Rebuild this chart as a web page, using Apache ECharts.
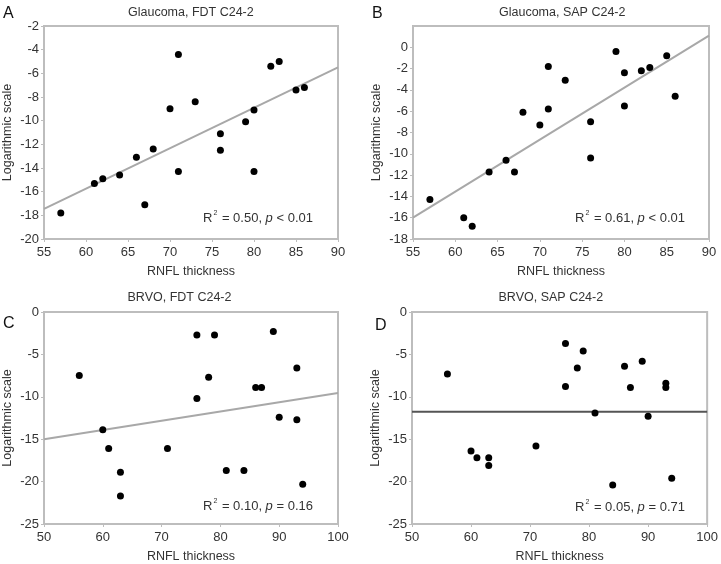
<!DOCTYPE html>
<html>
<head>
<meta charset="utf-8">
<script src="https://cdn.jsdelivr.net/npm/echarts@6/dist/echarts.min.js"></script>
<style>
  html, body { margin: 0; padding: 0; background: #fff; }
  #main { width: 721px; height: 564px; }
</style>
</head>
<body>
<div id="main"></div>
<script>
// panel A: Glaucoma, FDT C24-2
const glaucomaFdt = [
  [57, -17.8], [61, -15.3], [62, -14.9], [64, -14.6], [66, -13.1], [67, -17.1],
  [68, -12.4], [70, -9.0], [71, -4.4], [71, -14.3], [73, -8.4], [76, -11.1],
  [76, -12.5], [79, -10.1], [80, -9.1], [80, -14.3], [82, -5.4], [83, -5.0],
  [85, -7.4], [86, -7.2]
];
const glaucomaFdtFit = [[55, -17.45], [90, -5.5]];

// panel B: Glaucoma, SAP C24-2
const glaucomaSap = [
  [57, -14.3], [61, -16.0], [62, -16.8], [64, -11.7], [66, -10.6], [67, -11.7],
  [68, -6.1], [70, -7.3], [71, -1.8], [71, -5.8], [73, -3.1], [76, -7.0],
  [76, -10.4], [79, -0.4], [80, -2.4], [80, -5.5], [82, -2.2], [83, -1.9],
  [85, -0.8], [86, -4.6]
];
const glaucomaSapFit = [[55, -16.0], [90, 1.1]];

// panel C: BRVO, FDT C24-2
const brvoFdt = [
  [56, -7.5], [60, -13.9], [61, -16.1], [63, -18.9], [63, -21.7], [71, -16.1],
  [76, -2.7], [76, -10.2], [78, -7.7], [79, -2.7], [81, -18.7], [84, -18.7],
  [86, -8.9], [87, -8.9], [89, -2.3], [90, -12.4], [93, -6.6], [93, -12.7],
  [94, -20.3]
];
const brvoFdtFit = [[50, -15.0], [100, -9.55]];

// panel D: BRVO, SAP C24-2
const brvoSap = [
  [56, -7.3], [60, -16.4], [61, -17.2], [63, -17.2], [63, -18.1], [71, -15.8],
  [76, -3.7], [76, -8.8], [78, -6.6], [79, -4.6], [81, -11.9], [84, -20.4],
  [86, -6.4], [87, -8.9], [89, -5.8], [90, -12.3], [93, -8.4], [93, -8.9],
  [94, -19.6]
];
const brvoSapFit = [[50, -11.75], [100, -11.75]];

const panelTitles = ['Glaucoma, FDT C24-2', 'Glaucoma, SAP C24-2', 'BRVO, FDT C24-2', 'BRVO, SAP C24-2'];
const panelLetters = ['A', 'B', 'C', 'D'];
const statTexts = [
  ['0.50', '< 0.01'],
  ['0.61', '< 0.01'],
  ['0.10', '= 0.16'],
  ['0.05', '= 0.71']
];

const FONT = 'Liberation Sans, Arial, sans-serif';
const frameColor = '#bdbdbd';
const textColor = '#333';

const grids = [
  { left: 42, top: 26, width: 296, height: 213 },
  { left: 413, top: 26, width: 296, height: 213 },
  { left: 41, top: 312, width: 297, height: 213 },
  { left: 412, top: 312, width: 297, height: 213 }
].map(g => Object.assign(g, { show: true, borderColor: frameColor, borderWidth: 2 }));
const xRanges = [[55, 90, 5], [55, 90, 5], [50, 100, 10], [50, 100, 10]];
const yRanges = [[-20, -2, 2], [-18, 2, 2], [-25, 0, 5], [-25, 0, 5]];

const chart = echarts.init(document.getElementById('main'));

const xAxis = xRanges.map((r, i) => ({
  gridIndex: i,
  type: 'value',
  min: r[0], max: r[1], interval: r[2],
  name: 'RNFL thickness',
  nameLocation: 'middle',
  nameGap: 26,
  nameTextStyle: { fontFamily: FONT, fontSize: 12.5, color: textColor },
  axisLine: { onZero: false, lineStyle: { color: frameColor, width: 2 } },
  axisTick: { length: 3, lineStyle: { color: frameColor } },
  axisLabel: { fontFamily: FONT, fontSize: 13, color: textColor, margin: 7 },
  splitLine: { show: false }
}));

const yAxis = yRanges.map((r, i) => ({
  gridIndex: i,
  type: 'value',
  min: r[0], max: r[1], interval: r[2],
  name: 'Logarithmic scale',
  nameLocation: 'middle',
  nameGap: 30,
  nameTextStyle: { fontFamily: FONT, fontSize: 12.5, color: textColor },
  axisLine: { onZero: false, lineStyle: { color: frameColor, width: 2 } },
  axisTick: { length: 3, lineStyle: { color: frameColor } },
  axisLabel: { fontFamily: FONT, fontSize: 13, color: textColor, margin: 5, showMaxLabel: i !== 1 },
  splitLine: { show: false }
}));

const pointSets = [glaucomaFdt, glaucomaSap, brvoFdt, brvoSap];
const fitSets = [glaucomaFdtFit, glaucomaSapFit, brvoFdtFit, brvoSapFit];

const series = [];
pointSets.forEach((pts, i) => {
  series.push({
    type: 'line',
    xAxisIndex: i, yAxisIndex: i,
    data: fitSets[i],
    symbol: 'none',
    silent: true,
    lineStyle: { color: i === 3 ? '#555' : '#a8a8a8', width: 2 },
    z: 2
  });
  series.push({
    type: 'scatter',
    xAxisIndex: i, yAxisIndex: i,
    data: pts,
    symbolSize: 7,
    itemStyle: { color: '#000', opacity: 1 },
    z: 3
  });
});

const letterPos = [[3, 6], [372, 6], [3, 316], [375, 318]];
const statPos = [[203, 210], [575, 210], [203, 498], [575, 499]];

const graphic = [];
grids.forEach((g, i) => {
  graphic.push({
    type: 'text',
    left: g.left + g.width / 2 - 62,
    top: 6 + (i >= 2 ? 285 : 0),
    style: {
      text: panelTitles[i],
      font: '12.5px ' + FONT,
      fill: textColor,
      width: 120,
      align: 'center'
    }
  });
  graphic.push({
    type: 'text',
    left: letterPos[i][0],
    top: letterPos[i][1],
    style: { text: panelLetters[i], font: '16px ' + FONT, fill: '#111' }
  });
  graphic.push({
    type: 'text',
    left: statPos[i][0],
    top: statPos[i][1],
    style: {
      text: '{n|R}{s|2}{n| = ' + statTexts[i][0] + ', }{i|p}{n| ' + statTexts[i][1] + '}',
      rich: {
        n: { font: '13px ' + FONT, fill: textColor, lineHeight: 16 },
        s: { font: '7px ' + FONT, fill: textColor, verticalAlign: 'top', lineHeight: 16, padding: [0, 1, 0, 1] },
        i: { font: 'italic 13px ' + FONT, fill: textColor, lineHeight: 16 }
      }
    }
  });
});

chart.setOption({
  animation: false,
  backgroundColor: '#fff',
  grid: grids,
  xAxis: xAxis,
  yAxis: yAxis,
  series: series,
  graphic: graphic
});

window.onresize = function () {
  chart.resize();
};
</script>
</body>
</html>
